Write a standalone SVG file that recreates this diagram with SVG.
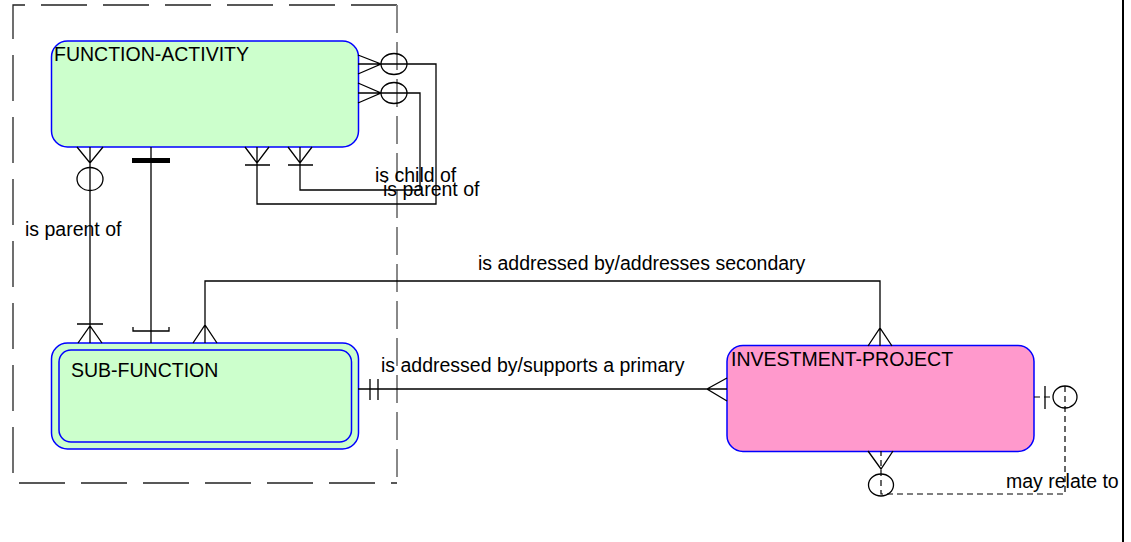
<svg xmlns="http://www.w3.org/2000/svg" width="1131" height="542" viewBox="0 0 1131 542">
<style>
.ent{stroke:#0000ff;stroke-width:1.5}
.fa{fill:#ccffcc}
.ip{fill:#ff99cc}
.ln{fill:none;stroke:#000;stroke-width:1.3}
.dl{fill:none;stroke:#000;stroke-width:1.2;stroke-dasharray:6 4}
.bar{stroke:#000;stroke-width:5}
.t{font-family:"Liberation Sans",Arial,sans-serif;font-size:19.5px;fill:#000}
</style>
<rect width="1131" height="542" fill="#fff"/>
<g id="boundary">
<path d="M397,5 H13 V483 H397" fill="none" stroke="#222" stroke-width="1.3" stroke-dasharray="46 16"/>
<path d="M397,5 V483" fill="none" stroke="#888" stroke-width="2" stroke-dasharray="28 9"/>
</g>
<line x1="1123" y1="0" x2="1123" y2="542" stroke="#000" stroke-width="2"/>
<g id="function-activity">
<rect class="ent fa" x="51.5" y="41" width="307" height="106" rx="16"/>
<text class="t" x="54" y="61">FUNCTION-ACTIVITY</text>
</g>
<g id="sub-function">
<rect class="ent fa" x="51.5" y="343" width="307" height="106" rx="16"/>
<rect class="ent fa" x="59" y="350" width="292.5" height="92" rx="12"/>
<text class="t" x="71" y="377">SUB-FUNCTION</text>
</g>
<g id="investment-project">
<rect class="ent ip" x="727" y="345.5" width="307" height="106" rx="16"/>
<text class="t" x="731" y="366">INVESTMENT-PROJECT</text>
</g>
<g id="connectors">
<!-- is child of -->
<path class="ln" d="M358,55 L381,64 L358,74 M358,64 H436 V204 H257 V147 M245,165 H270 M245,147 L257,163 L269,147"/>
<ellipse class="ln" cx="394" cy="64" rx="13" ry="10.5"/>
<!-- is parent of (self) -->
<path class="ln" d="M358,83 L381,93 L358,103 M358,93 H420 V190 H300 V147 M288,165 H313 M288,147 L300,163 L312,147"/>
<ellipse class="ln" cx="394" cy="93" rx="13" ry="10.5"/>
<text class="t" x="375" y="182">is child of</text>
<text class="t" x="383" y="196">is parent of</text>
<!-- is parent of (left) -->
<path class="ln" d="M77,147 L90,163 L103,147 M90,147 V343 M77,324 H103 M78,343 L90,326 L102,343"/>
<ellipse class="ln" cx="90" cy="179" rx="13" ry="11.5"/>
<text class="t" x="25" y="236">is parent of</text>
<!-- middle -->
<path class="ln" d="M151,147 V343 M133,327 V331 H169 V327"/>
<line class="bar" x1="132" y1="160.5" x2="170" y2="160.5"/>
<!-- secondary -->
<path class="ln" d="M205,343 V281 H880 V346 M193,343 L205,325 L217,343 M868,346 L880,328 L892,346"/>
<text class="t" x="478" y="270">is addressed by/addresses secondary</text>
<!-- primary -->
<path class="ln" d="M358,389 H727 M370,379 V400 M378,379 V400 M727,378 L707,389 L727,401"/>
<text class="t" x="381" y="372">is addressed by/supports a primary</text>
<!-- may relate to -->
<path class="dl" d="M1034,397 H1053 M1065,386 V494 H881 V451"/>
<path class="ln" d="M1045,386 V409 M868,451 L881,469 L893,451"/>
<ellipse class="ln" cx="1065" cy="397" rx="12" ry="11"/>
<ellipse class="ln" cx="881" cy="485" rx="12.5" ry="11"/>
<text class="t" x="1006" y="488">may relate to</text>
</g>
</svg>
